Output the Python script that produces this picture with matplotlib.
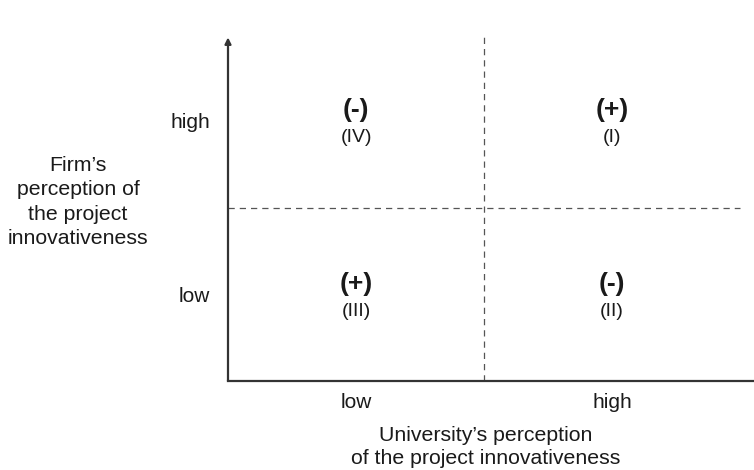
import matplotlib
matplotlib.use("Agg")
import matplotlib.pyplot as plt

plt.rcParams["font.family"] = ["Liberation Sans", "DejaVu Sans"]

# ── Data ─────────────────────────────────────────────────────────────
x_ticks = [0.5, 1.5]
x_tick_labels = ["low", "high"]
y_ticks = [0.5, 1.5]
y_tick_labels = ["low", "high"]
split_x = 1.0
split_y = 1.0

quadrant_x = [1.5, 1.5, 0.5, 0.5]
quadrant_y = [1.5, 0.5, 0.5, 1.5]
quadrant_signs = ["(+)", "(-)", "(+)", "(-)"]
quadrant_names = ["(I)", "(II)", "(III)", "(IV)"]

x_label = "University\u2019s perception\nof the project innovativeness"
y_label = "Firm\u2019s\nperception of\nthe project\ninnovativeness"

TXT = "#1a1a1a"
AX = "#333333"
DASH = "#555555"
Y0 = 0.005

fig = plt.figure(figsize=(7.54, 4.70), dpi=100, facecolor="white")
ax = fig.add_axes([228 / 754, 89 / 470, 525 / 754, 341 / 470])
ax.set_xlim(0, 2.05)
ax.set_ylim(Y0, 1.965)

for s in ["top", "right", "left"]:
    ax.spines[s].set_visible(False)
ax.spines["bottom"].set_color(AX)
ax.spines["bottom"].set_linewidth(1.6)

# y axis with arrow
ax.annotate("", xy=(0, 1.98), xytext=(0, Y0), xycoords="data",
            arrowprops=dict(arrowstyle="-|>", lw=1.6, color=AX,
                            mutation_scale=9, shrinkA=0, shrinkB=0),
            annotation_clip=False)

# quadrant dividers
ax.plot([split_x, split_x], [Y0, 1.98], ls=(0, (5, 4)), lw=0.9, color=DASH, clip_on=False)
ax.plot([0, 2.0], [split_y, split_y], ls=(0, (5, 4)), lw=0.9, color=DASH, clip_on=False)

ax.set_xticks(x_ticks, x_tick_labels)
ax.set_yticks(y_ticks, y_tick_labels)
ax.tick_params(axis="x", length=0, pad=9, labelsize=15, labelcolor=TXT)
ax.tick_params(axis="y", length=0, pad=13, labelsize=15, labelcolor=TXT)

for qx, qy, sg, nm in zip(quadrant_x, quadrant_y, quadrant_signs, quadrant_names):
    ax.annotate(sg, (qx, qy), xytext=(0, 8), textcoords="offset points",
                ha="center", va="center", fontsize=19, fontweight="bold", color=TXT)
    ax.annotate(nm, (qx, qy), xytext=(0, -12), textcoords="offset points",
                ha="center", va="center", fontsize=14, color=TXT)

fig.text(486 / 754, 1 - 447 / 470, x_label, ha="center", va="center",
         fontsize=15.3, color=TXT, linespacing=1.3)
fig.text(78 / 754, 1 - 202 / 470, y_label, ha="center", va="center",
         fontsize=15.3, color=TXT, linespacing=1.35)

fig.savefig("out.png", dpi=100, facecolor="white")
